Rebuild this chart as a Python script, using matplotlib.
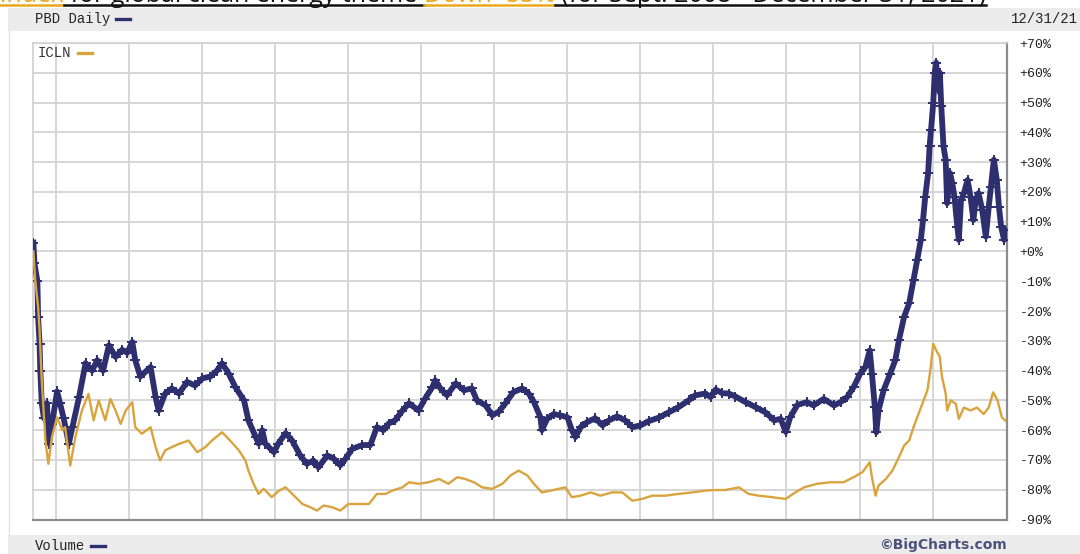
import matplotlib
matplotlib.use('Agg')
import matplotlib.pyplot as plt
from matplotlib.lines import Line2D
from matplotlib.patches import Rectangle
import numpy as np

# PBD daily, % change since Sept. 2008
pbdYears = [2008.685, 2008.70, 2008.74, 2008.75, 2008.77, 2008.78, 2008.80, 2008.83,
            2008.87, 2008.90, 2008.94, 2009.01, 2009.05, 2009.10, 2009.17, 2009.22,
            2009.31, 2009.40, 2009.49, 2009.56, 2009.64, 2009.72, 2009.81, 2009.90,
            2009.97, 2010.04, 2010.08, 2010.15, 2010.29, 2010.36, 2010.40, 2010.49,
            2010.58, 2010.68, 2010.79, 2010.90, 2011.00, 2011.11, 2011.20, 2011.27,
            2011.36, 2011.45, 2011.57, 2011.63, 2011.73, 2011.77, 2011.82, 2011.86,
            2011.98, 2012.04, 2012.14, 2012.23, 2012.34, 2012.43, 2012.52, 2012.59,
            2012.71, 2012.80, 2012.89, 2012.96, 2013.05, 2013.19, 2013.30, 2013.39,
            2013.48, 2013.55, 2013.64, 2013.74, 2013.83, 2013.96, 2014.05, 2014.15,
            2014.19, 2014.26, 2014.35, 2014.47, 2014.58, 2014.69, 2014.76, 2014.88,
            2014.97, 2015.06, 2015.15, 2015.26, 2015.38, 2015.47, 2015.54, 2015.63,
            2015.65, 2015.72, 2015.81, 2015.90, 2016.00, 2016.06, 2016.11, 2016.18,
            2016.27, 2016.38, 2016.48, 2016.57, 2016.68, 2016.79, 2016.89, 2017.00,
            2017.11, 2017.25, 2017.39, 2017.52, 2017.66, 2017.75, 2017.89, 2017.96,
            2018.03, 2018.12, 2018.21, 2018.30, 2018.44, 2018.58, 2018.71, 2018.83,
            2018.92, 2018.99, 2019.05, 2019.15, 2019.28, 2019.37, 2019.51, 2019.65,
            2019.74, 2019.83, 2019.92, 2020.01, 2020.08, 2020.14, 2020.17, 2020.21,
            2020.23, 2020.26, 2020.33, 2020.42, 2020.49, 2020.54, 2020.61, 2020.68,
            2020.74, 2020.79, 2020.84, 2020.87, 2020.90, 2020.94, 2020.96, 2020.98,
            2021.01, 2021.03, 2021.05, 2021.07, 2021.10, 2021.12, 2021.15, 2021.18,
            2021.20, 2021.24, 2021.27, 2021.30, 2021.34, 2021.36, 2021.39, 2021.43,
            2021.48, 2021.52, 2021.56, 2021.59, 2021.63, 2021.68, 2021.73, 2021.77,
            2021.80, 2021.84, 2021.88, 2021.91, 2021.94, 2021.98, 2021.999]
pbdPct = [3, -4, -10, -22, -31, -40, -51, -56,
          -51, -64.5, -58, -47, -51, -56, -64.5, -59,
          -49, -37.5, -40, -36.5, -40, -31.5, -35.4, -33,
          -34, -30.4, -36.5, -42, -38.8, -49, -53.4, -47.7,
          -46, -47.7, -43.8, -45, -42.6, -42, -40, -37.6,
          -41, -45.5, -50, -56.7, -62.3, -64.5, -60, -64.5,
          -67.4, -64.5, -61, -63.5, -68.5, -71.3, -70.2, -72.5,
          -68.5, -69.6, -71.8, -69.6, -66.3, -65, -65, -59,
          -60, -57.8, -56.7, -53.4, -51, -53.4, -49.4, -45.5,
          -43.3, -46, -48.3, -44.3, -46.6, -46, -50, -51.7,
          -55, -53.8, -51, -47.2, -46, -47.7, -50.5, -55.7,
          -60, -56.3, -54.6, -55, -55.7, -60, -62.3, -59,
          -57.3, -56, -58.4, -56.7, -55.4, -56.7, -59, -58.4,
          -57, -55.8, -54, -52.3, -50, -48.3, -47.7, -48.9,
          -46.4, -47.6, -47.7, -48.7, -50.6, -52.3, -54, -56.7,
          -56.2, -60.6, -55.7, -51.5, -50.6, -51.7, -49.5, -51.7,
          -50.6, -48.9, -45.5, -41, -38.8, -33.2, -41, -52.3,
          -60.7, -53.4, -46.6, -41, -36.5, -29.8, -22, -17.4,
          -9.6, -2.9, 3.9, 10.6, 18.4, 26.3, 35.3, 40.9,
          49.9, 60, 63.4, 54.4, 60, 48.8, 35.3, 30.8,
          16.2, 26.3, 23, 18.4, 8.3, 3.9, 17.3, 19.6,
          24, 18.4, 10.6, 17.3, 19.6, 14, 5, 15,
          21.8, 30.8, 24, 15, 8.3, 3.9, 7.2]

# ICLN, % change since Sept. 2008
iclnYears = [2008.685, 2008.71, 2008.75, 2008.77, 2008.80, 2008.83, 2008.85, 2008.89,
             2008.94, 2009.01, 2009.08, 2009.12, 2009.19, 2009.26, 2009.35, 2009.44,
             2009.51, 2009.58, 2009.67, 2009.74, 2009.81, 2009.88, 2009.95, 2010.04,
             2010.08, 2010.17, 2010.29, 2010.36, 2010.42, 2010.49, 2010.58, 2010.68,
             2010.81, 2010.93, 2011.04, 2011.13, 2011.27, 2011.38, 2011.50, 2011.59,
             2011.63, 2011.70, 2011.77, 2011.84, 2011.95, 2012.05, 2012.14, 2012.23,
             2012.37, 2012.48, 2012.57, 2012.66, 2012.78, 2012.89, 2013.00, 2013.14,
             2013.28, 2013.39, 2013.51, 2013.60, 2013.74, 2013.83, 2013.96, 2014.10,
             2014.24, 2014.37, 2014.49, 2014.60, 2014.72, 2014.83, 2014.97, 2015.11,
             2015.22, 2015.33, 2015.45, 2015.54, 2015.65, 2015.77, 2015.88, 2015.97,
             2016.06, 2016.18, 2016.32, 2016.45, 2016.61, 2016.75, 2016.89, 2017.02,
             2017.16, 2017.34, 2017.52, 2017.71, 2017.89, 2018.03, 2018.16, 2018.35,
             2018.48, 2018.62, 2018.80, 2018.99, 2019.12, 2019.24, 2019.42, 2019.60,
             2019.78, 2019.92, 2020.04, 2020.14, 2020.17, 2020.22, 2020.26, 2020.36,
             2020.45, 2020.54, 2020.61, 2020.68, 2020.74, 2020.79, 2020.86, 2020.93,
             2020.97, 2021.01, 2021.05, 2021.10, 2021.13, 2021.18, 2021.20, 2021.25,
             2021.32, 2021.36, 2021.43, 2021.52, 2021.61, 2021.70, 2021.77, 2021.83,
             2021.89, 2021.95, 2021.999]
iclnPct = [0, -9.6, -18.6, -26.4, -43.3, -55.7, -63.5, -71.3,
           -62.3, -55.7, -60, -59, -71.9, -62.3, -53.4, -47.8,
           -56.7, -50, -56.7, -49.5, -53.4, -57.9, -53.4, -50.6,
           -59, -61.2, -59, -65.7, -70.2, -66.8, -65.7, -64.6,
           -63.5, -67.4, -65.7, -63.5, -60.7, -63.5, -66.8, -70.2,
           -73.6, -78, -81.4, -79.7, -82.5, -80.3, -79.2, -81.4,
           -84.8, -85.9, -87, -85.3, -85.9, -87, -84.8, -84.8,
           -84.8, -81.4, -81.4, -80.3, -79.2, -77.5, -78, -77.5,
           -76.4, -78, -75.8, -76.4, -77.5, -79.2, -79.7, -78,
           -75.2, -73.6, -75.2, -78, -80.9, -80.3, -79.7, -79.2,
           -82.5, -82, -80.9, -82, -80.9, -80.9, -83.7, -83.1,
           -82, -82, -81.4, -80.9, -80.3, -80.1, -80.1, -79.2,
           -81.4, -82, -82.5, -83.1, -80.9, -79.2, -78, -77.5,
           -77.5, -75.8, -74.1, -70.8, -75.8, -82, -78.6, -76.4,
           -73.6, -69.1, -65.2, -63.5, -59, -55.7, -51.2, -46.6,
           -40, -31, -33.2, -35.4, -42.1, -47.7, -53.4, -50,
           -51.2, -56.2, -52.4, -53.4, -52.4, -54.6, -52.4, -47.3,
           -50, -55.7, -56.8]

yTicks = list(range(-90, 71, 10))
yTickLabels = ['%+d%%' % v for v in yTicks]
yearLines = list(range(2009, 2022))

navy = '#2d2f6e'
gold = '#d9a43e'
gridCol = '#d6d6d6'
mono = 'Liberation Mono'

W, H = 1080, 554
fig = plt.figure(figsize=(W / 100, H / 100), dpi=100)
fig.patch.set_facecolor('white')

def fx(px):
    return px / W

def fy(py):
    return 1 - py / H

# header and footer bands
fig.add_artist(Rectangle((fx(8), fy(31)), fx(W - 8), 23 / H, transform=fig.transFigure,
                         facecolor='#ececec', edgecolor='none', zorder=0))
fig.add_artist(Rectangle((fx(8), 0), fx(W - 8), 19 / H, transform=fig.transFigure,
                         facecolor='#ececec', edgecolor='none', zorder=0))
fig.add_artist(Line2D([fx(9), fx(9)], [fy(535), fy(31)], transform=fig.transFigure,
                      color='#e2e2e2', lw=1))

ax = fig.add_axes([fx(33), fy(519.5), fx(1007 - 33), (519.5 - 43) / H])
ax.set_facecolor('white')

ax.plot(pbdYears, pbdPct, color=navy, lw=4.2, marker='+', ms=7, mew=1.4, zorder=3,
        solid_joinstyle='round')
ax.plot(iclnYears, iclnPct, color=gold, lw=1.7, zorder=4)

ax.set_xlim(2008.68, 2022.02)
ax.set_ylim(-90, 70)
ax.set_yticks(yTicks)
ax.set_yticklabels(yTickLabels, family=mono, fontsize=9.5, color='#222222')
ax.yaxis.tick_right()
ax.tick_params(axis='y', length=0, pad=9)
ax.set_xticks(yearLines)
ax.tick_params(axis='x', length=0, labelbottom=False)
ax.grid(True, color=gridCol, lw=1.4)
ax.set_axisbelow(True)

for side in ['top', 'left']:
    ax.spines[side].set_color('#d0d0d0')
    ax.spines[side].set_linewidth(1.2)
for side in ['right', 'bottom']:
    ax.spines[side].set_color('#8c8c8c')
    ax.spines[side].set_linewidth(1.6)

# labels with colour dashes
def label(px, py, txt, col, dashCol):
    t = fig.text(fx(px), fy(py), txt, family=mono, fontsize=10, color=col, va='center')
    fig.canvas.draw()
    bb = t.get_window_extent(fig.canvas.get_renderer())
    fig.add_artist(Line2D([bb.x1 / W + fx(6), bb.x1 / W + fx(20)], [fy(py), fy(py)],
                          transform=fig.transFigure, color=dashCol, lw=2.4))

label(35, 19, 'PBD Daily', '#222222', navy)
label(38, 53, 'ICLN', '#333333', gold)
label(35, 546, 'Volume', '#222222', navy)
fig.text(fx(1078), fy(19), '12/31/21', family=mono, fontsize=10, color='#222222',
         ha='right', va='center')
fig.text(fx(1007), fy(545), '\u00a9BigCharts.com', fontsize=10, fontweight='bold',
         color='#4d527c', ha='right', va='center')

# cropped headline at the top edge (only its lower part shows, as in the source)
parts = [('index', '#e9a81f'), (' for global clean energy theme ', '#111111'),
         ('Down -53%', '#e9a81f'), (' (for Sept. 2008 - December 31, 2021)', '#111111')]
fig.canvas.draw()
rend = fig.canvas.get_renderer()
xpos = 0
for s, c in parts:
    t = fig.text(fx(xpos), fy(1.5), s, color=c, fontsize=18, family='Open Sans', va='baseline')
    bb = t.get_window_extent(rend)
    fig.add_artist(Line2D([bb.x0 / W, bb.x1 / W], [fy(5), fy(5)], transform=fig.transFigure,
                          color=c, lw=1.8))
    xpos = bb.x1

fig.savefig('out.png', dpi=100)
